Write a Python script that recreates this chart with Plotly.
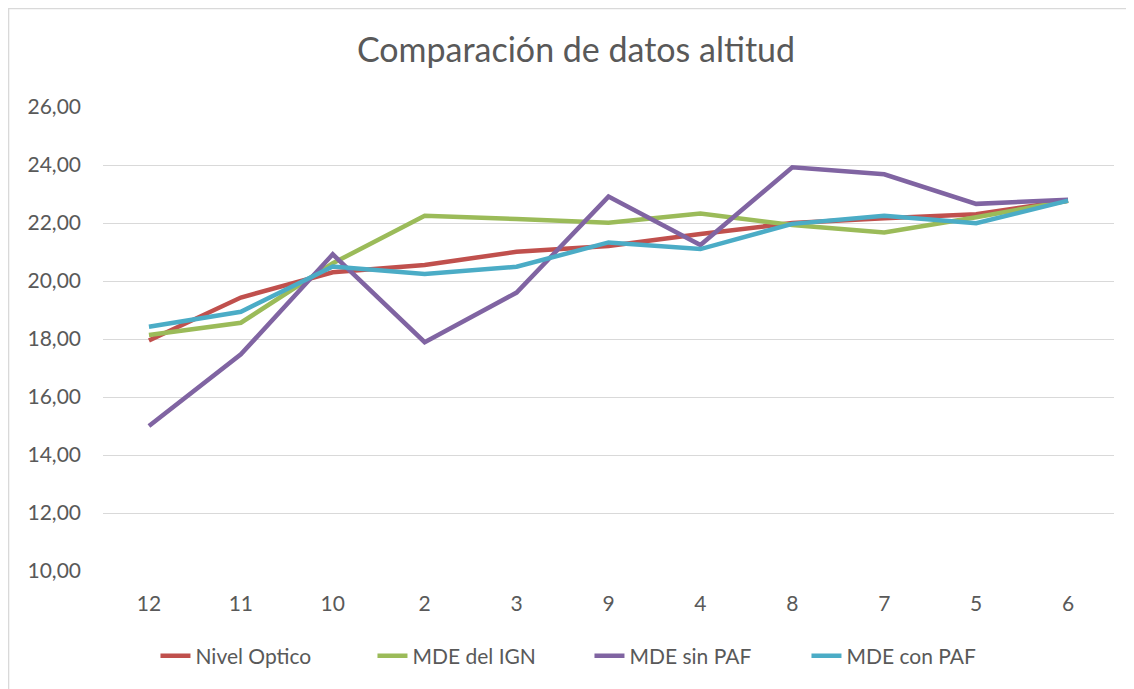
import plotly.graph_objects as go

categories = ["12", "11", "10", "2", "3", "9", "4", "8", "7", "5", "6"]
nivel_optico = [17.95, 19.43, 20.30, 20.55, 21.01, 21.21, 21.62, 22.00, 22.16, 22.30, 22.77]
mde_ign = [18.14, 18.56, 20.61, 22.25, 22.14, 22.01, 22.33, 21.93, 21.67, 22.20, 22.77]
mde_sin_paf = [15.00, 17.47, 20.92, 17.89, 19.60, 22.91, 21.24, 23.92, 23.68, 22.66, 22.80]
mde_con_paf = [18.42, 18.94, 20.50, 20.24, 20.49, 21.33, 21.10, 21.97, 22.25, 21.99, 22.77]

series = [
    ("Nivel Optico", nivel_optico, "#C0504D"),
    ("MDE del IGN", mde_ign, "#9BBB59"),
    ("MDE sin PAF", mde_sin_paf, "#8064A2"),
    ("MDE con PAF", mde_con_paf, "#4BACC6"),
]

fig = go.Figure()
for name, vals, color in series:
    fig.add_trace(go.Scatter(
        x=categories, y=vals, name=name, mode="lines",
        line=dict(color=color, width=4.5),
    ))

W, H = 1126, 681
L, T = 94.5, 99
R = W - 1106
B = H - 563
pw, ph = W - L - R, H - T - B

fig.update_layout(
    width=W, height=H,
    margin=dict(l=L, r=R, t=T, b=B, pad=0),
    paper_bgcolor="white", plot_bgcolor="white",
    separators=",.",
    font=dict(family="Lato, sans-serif", color="#595959", size=21),
    title=dict(text="Comparación de datos altitud", x=568 / W, xanchor="center",
               y=1 - 42 / H, yanchor="middle",
               font=dict(size=34, color="#595959", family="Lato, sans-serif")),
    xaxis=dict(type="category", range=[-0.5, 10.5], showgrid=False, showline=False,
               ticks="", zeroline=False,
               tickfont=dict(size=21, color="#595959"), ticklabelstandoff=18),
    yaxis=dict(range=[10, 26], dtick=2, tickformat=".2f", showgrid=True,
               gridcolor="#D9D9D9", gridwidth=1, zeroline=False, showline=False,
               tickfont=dict(size=21, color="#595959"), ticklabelstandoff=21),
    legend=dict(orientation="h", x=(147 - L) / pw, xanchor="left",
                y=(563 - 648) / ph, yanchor="middle",
                font=dict(size=21, color="#595959"),
                entrywidth=172, entrywidthmode="pixels"),
    showlegend=True,
    shapes=[dict(type="rect", xref="paper", yref="paper",
                 x0=(0 - L) / pw, x1=(W + 20 - L) / pw,
                 y0=(563 - H - 20) / ph, y1=(563 - 0.5) / ph,
                 line=dict(color="#D9D9D9", width=1.5), fillcolor="rgba(0,0,0,0)",
                 layer="below")],
)

fig.write_html("out.html")
